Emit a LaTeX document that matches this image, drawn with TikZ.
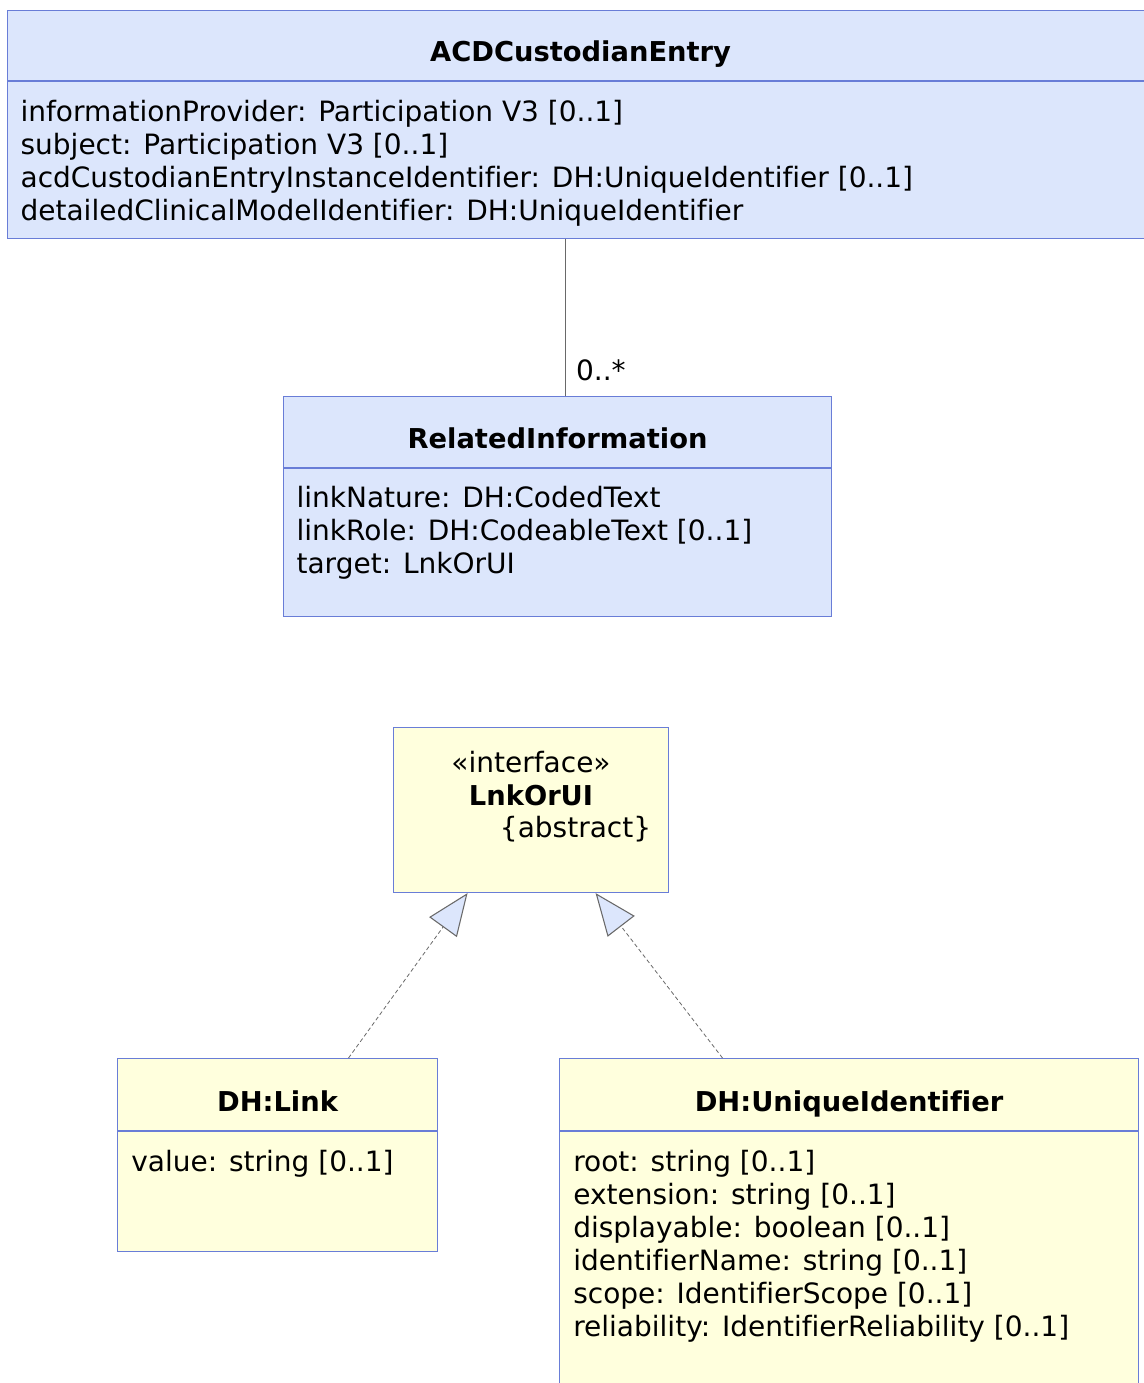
\documentclass[tikz,border=0pt]{standalone}
\usepackage{fontspec}
\setmainfont{DejaVu Sans}[Ligatures=NoCommon]
\usetikzlibrary{positioning,arrows.meta}

\definecolor{umlblue}{RGB}{220,230,252}
\definecolor{umlyellow}{RGB}{255,255,221}
\definecolor{umlborder}{RGB}{105,125,215}
\definecolor{linkgray}{RGB}{105,105,105}

\begin{document}
\begin{tikzpicture}[x=0.75pt, y=-0.75pt,
			classbox/.style={rectangle, draw=umlborder, fill=umlblue, anchor=north west,
					inner sep=0pt, line width=0.8pt},
			ifacebox/.style={classbox, fill=umlyellow},
			classname/.style={font=\fontsize{20.5}{24}\selectfont\bfseries, inner sep=0pt, anchor=base},
			attrs/.style={font=\fontsize{21}{24.75}\selectfont, align=left, anchor=north west, inner sep=0pt},
			plain/.style={font=\fontsize{21}{24.75}\selectfont, inner sep=0pt},
			divider/.style={draw=umlborder, line width=0.8pt},
			assoc/.style={draw=linkgray, line width=0.8pt},
			realize/.style={draw=linkgray, line width=0.6pt, dash pattern=on 3pt off 2pt,
					-{Triangle[open, length=31.5pt, width=25.5pt, fill=umlblue, line width=0.8pt]}}
		]
		\useasboundingbox (0,0) rectangle (1143,1383);

		% ACD custodian entry
		\node[classbox, minimum width=859.5pt, minimum height=171pt] (acd) at (7,10) {};
		\draw[divider] ([yshift=-53.25pt]acd.north west) -- ([yshift=-53.25pt]acd.north east);
		\node[classname] (acdname) at ([yshift=-39pt]acd.north) {ACDCustodianEntry};
		\node[attrs] (acdattrs) at ([xshift=10pt, yshift=-67.5pt]acd.north west)
			{informationProvider: Participation V3 [0..1]\\
			 subject: Participation V3 [0..1]\\
			 acdCustodianEntryInstanceIdentifier: DH:UniqueIdentifier [0..1]\\
			 detailedClinicalModelIdentifier: DH:UniqueIdentifier};

		% related information
		\node[classbox, minimum width=411pt, minimum height=165pt] (rel) at (283,396) {};
		\draw[divider] ([yshift=-54pt]rel.north west) -- ([yshift=-54pt]rel.north east);
		\node[classname] (relname) at ([yshift=-39pt]rel.north) {RelatedInformation};
		\node[attrs] (relattrs) at ([xshift=10pt, yshift=-67.5pt]rel.north west)
			{linkNature: DH:CodedText\\
			 linkRole: DH:CodeableText [0..1]\\
			 target: LnkOrUI};

		% interface
		\node[ifacebox, minimum width=206.25pt, minimum height=123.75pt] (iface) at (393,727) {};
		\node[plain] (ifacestereo) at ([yshift=-26.25pt]iface.north) {«interface»};
		\node[classname, anchor=center] (ifacename) at ([yshift=-51pt]iface.north) {LnkOrUI};
		\node[plain] (ifaceabstract) at ([xshift=33.4pt, yshift=-76.5pt]iface.north) {\{abstract\}};

		% link
		\node[ifacebox, minimum width=240pt, minimum height=144.75pt] (link) at (117,1058) {};
		\draw[divider] ([yshift=-54.75pt]link.north west) -- ([yshift=-54.75pt]link.north east);
		\node[classname] (linkname) at ([yshift=-39.75pt]link.north) {DH:Link};
		\node[attrs] (linkattrs) at ([xshift=10.5pt, yshift=-69pt]link.north west)
			{value: string [0..1]};

		% unique identifier
		\node[ifacebox, minimum width=434.25pt, minimum height=251.25pt] (uid) at (559,1058) {};
		\draw[divider] ([yshift=-54.75pt]uid.north west) -- ([yshift=-54.75pt]uid.north east);
		\node[classname] (uidname) at ([yshift=-39.75pt]uid.north) {DH:UniqueIdentifier};
		\node[attrs] (uidattrs) at ([xshift=10.5pt, yshift=-69pt]uid.north west)
			{root: string [0..1]\\
			 extension: string [0..1]\\
			 displayable: boolean [0..1]\\
			 identifierName: string [0..1]\\
			 scope: IdentifierScope [0..1]\\
			 reliability: IdentifierReliability [0..1]};

		% connections
		\draw[assoc] ([xshift=6pt]rel.north) -- node[plain, pos=0, anchor=south west, xshift=7.5pt, yshift=11pt]{0..*}
			([xshift=6pt]rel.north |- acd.south);
		\draw[realize] ([xshift=53.25pt]link.north) -- ([xshift=-47.6pt]iface.south);
		\draw[realize] ([xshift=-94.9pt]uid.north) -- ([xshift=48.4pt]iface.south);
	\end{tikzpicture}
\end{document}
